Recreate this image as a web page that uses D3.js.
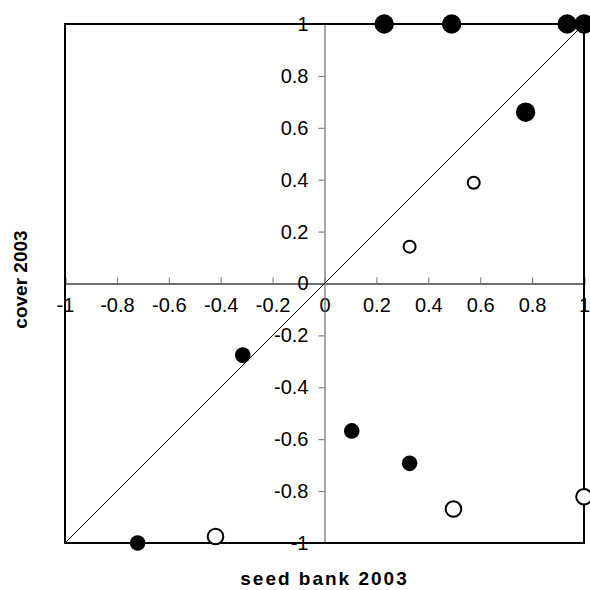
<!DOCTYPE html>
<html>
<head>
<meta charset="utf-8">
<script src="https://cdn.jsdelivr.net/npm/d3@7"></script>
<style>
  body { margin: 0; background: #fff; }
  text { font-family: "Liberation Sans", Arial, sans-serif; }
</style>
</head>
<body>
<div id="chart"></div>
<script>
// seed bank vs cover, 2003
var bigFilledX = [0.23, 0.49, 0.935, 1.0, 0.775];
var bigFilledY = [1, 1, 1, 1, 0.66];
var smallFilledX = [-0.315, 0.105, 0.328, -0.72];
var smallFilledY = [-0.276, -0.568, -0.693, -1];
var bigOpenX = [-0.42, 0.497, 1.0];
var bigOpenY = [-0.975, -0.869, -0.822];
var smallOpenX = [0.328, 0.575];
var smallOpenY = [0.142, 0.388];
var tickValues = [-1, -0.8, -0.6, -0.4, -0.2, 0, 0.2, 0.4, 0.6, 0.8, 1];
var xTitle = "seed bank 2003";
var yTitle = "cover 2003";

var margin = {top: 24, right: 6, bottom: 47, left: 65}
  , width = 590 - margin.left - margin.right
  , height = 590 - margin.top - margin.bottom;

var xScale = d3.scaleLinear().domain([-1, 1]).range([0, width]);
var yScale = d3.scaleLinear().domain([-1, 1]).range([height, 0]);

// plain hyphen for negatives, like the original
var fmt = function(d) { return String(d); };

var svg = d3.select("#chart").append("svg")
  .attr("width", 590)
  .attr("height", 590)
  .append("g")
  .attr("transform", "translate(" + margin.left + "," + margin.top + ")");

// zero axes
var xAxis = svg.append("g")
  .attr("transform", "translate(0," + yScale(0) + ")")
  .call(d3.axisTop(xScale).tickValues(tickValues).tickSize(6).tickFormat(fmt));
xAxis.select(".domain").attr("stroke", "#6e6e6e").attr("stroke-width", 2);
xAxis.selectAll(".tick line").attr("stroke", "#6e6e6e");
xAxis.selectAll(".tick text")
  .attr("y", 28)
  .attr("dy", 0)
  .attr("font-size", 20)
  .attr("font-family", "Liberation Sans, Arial, sans-serif")
  .attr("fill", "#000");

var yAxis = svg.append("g")
  .attr("transform", "translate(" + xScale(0) + ",0)")
  .call(d3.axisLeft(yScale).tickValues(tickValues).tickSize(6).tickFormat(fmt));
yAxis.select(".domain").attr("stroke", "#6e6e6e").attr("stroke-width", 1.2);
yAxis.selectAll(".tick line").attr("stroke", "#6e6e6e");
yAxis.selectAll(".tick text")
  .attr("x", -16)
  .attr("font-size", 20)
  .attr("font-family", "Liberation Sans, Arial, sans-serif")
  .attr("fill", "#000");

// plot border
svg.append("rect")
  .attr("x", 0).attr("y", 0)
  .attr("width", width).attr("height", height)
  .attr("fill", "none")
  .attr("stroke", "#000")
  .attr("stroke-width", 2);

// 1:1 line
svg.append("line")
  .attr("x1", xScale(-1)).attr("y1", yScale(-1))
  .attr("x2", xScale(1)).attr("y2", yScale(1))
  .attr("stroke", "#000")
  .attr("stroke-width", 1);

function drawPoints(xs, ys, r, filled) {
  svg.append("g").selectAll("circle")
    .data(d3.zip(xs, ys))
    .enter().append("circle")
    .attr("cx", function(d) { return xScale(d[0]); })
    .attr("cy", function(d) { return yScale(d[1]); })
    .attr("r", r)
    .attr("fill", filled ? "#000" : "#fff")
    .attr("stroke", "#000")
    .attr("stroke-width", filled ? 0 : 2);
}

drawPoints(smallOpenX, smallOpenY, 6, false);
drawPoints(bigOpenX, bigOpenY, 7.8, false);
drawPoints(smallFilledX, smallFilledY, 7.8, true);
drawPoints(bigFilledX, bigFilledY, 9.7, true);

// axis titles
svg.append("text")
  .attr("x", xScale(0))
  .attr("y", height + 42)
  .attr("text-anchor", "middle")
  .attr("font-size", 19)
  .attr("font-weight", "bold")
  .attr("letter-spacing", 2)
  .text(xTitle);

svg.append("text")
  .attr("transform", "translate(" + (-38) + "," + (yScale(0) - 4) + ") rotate(-90)")
  .attr("text-anchor", "middle")
  .attr("font-size", 19)
  .attr("font-weight", "bold")
  .text(yTitle);
</script>
</body>
</html>
